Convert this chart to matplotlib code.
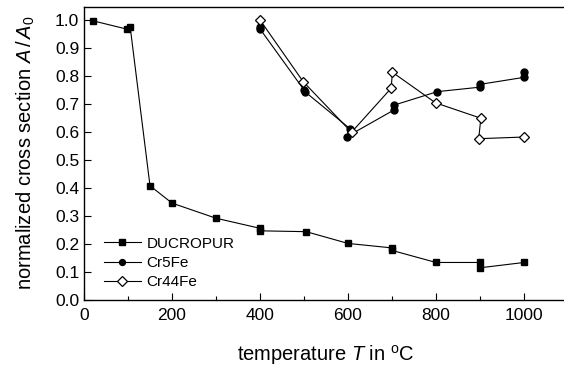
import matplotlib
matplotlib.use("Agg")
import matplotlib.pyplot as plt
from matplotlib.ticker import MultipleLocator

plt.rcParams['font.family'] = ['Liberation Sans', 'DejaVu Sans']
plt.rcParams['mathtext.fontset'] = 'custom'
plt.rcParams['mathtext.rm'] = 'Liberation Sans'
plt.rcParams['mathtext.it'] = 'Liberation Sans:italic'

# DUCROPUR (filled squares)
duc_T = [20, 98, 105, 150, 200, 300, 400, 400, 505, 600, 700, 700, 800, 900, 900, 1000]
duc_A = [0.997, 0.967, 0.974, 0.408, 0.346, 0.292, 0.256, 0.247, 0.244, 0.202, 0.186, 0.177, 0.134, 0.134, 0.115, 0.134]

# Cr5Fe (filled circles)
cr5_T = [400, 400, 500, 502, 605, 597, 705, 705, 803, 900, 900, 1000, 1000]
cr5_A = [0.976, 0.968, 0.75, 0.744, 0.611, 0.583, 0.679, 0.696, 0.744, 0.76, 0.770, 0.795, 0.815]

# Cr44Fe (open diamonds)
cr44_T = [400, 498, 608, 698, 701, 799, 902, 897, 1001]
cr44_A = [1.0, 0.780, 0.599, 0.756, 0.813, 0.704, 0.649, 0.576, 0.582]

fig = plt.figure(figsize=(5.64, 3.66), dpi=100)
ax = fig.add_axes([84 / 564, 66 / 366, 484 / 564, 293.5 / 366])

ax.plot(duc_T, duc_A, '-s', color='black', lw=0.8, ms=5, label='DUCROPUR')
ax.plot(cr5_T, cr5_A, '-o', color='black', lw=0.8, ms=5, label='Cr5Fe')
ax.plot(cr44_T, cr44_A, '-D', color='black', mfc='white', mew=0.9, lw=0.8, ms=5.5, label='Cr44Fe')

ax.set_xlim(0, 1100)
ax.set_ylim(0, 1.048)
ax.xaxis.set_major_locator(MultipleLocator(200))
ax.xaxis.set_minor_locator(MultipleLocator(100))
ax.yaxis.set_major_locator(MultipleLocator(0.1))
ax.yaxis.set_major_formatter(matplotlib.ticker.FormatStrFormatter('%.1f'))
ax.tick_params(axis='both', which='major', direction='in', length=5, width=0.8, labelsize=12.5)
ax.tick_params(axis='x', which='minor', direction='in', length=3, width=0.8)
ax.tick_params(axis='x', pad=6)
ax.spines['right'].set_visible(False)
for s in ['left', 'top', 'bottom']:
    ax.spines[s].set_linewidth(1.0)

ax.set_xlabel('temperature $\\mathit{T}$ in $^{\\rm o}$C', fontsize=14.5, labelpad=14)
ax.set_ylabel('normalized cross section $\\mathit{A}\\,/\\,\\mathit{A}_0$', fontsize=14.5, labelpad=13)

ax.legend(loc='lower left', bbox_to_anchor=(0.019, 0.0), frameon=False, fontsize=11,
          handlelength=2.4, handletextpad=0.4, labelspacing=0.35, borderaxespad=0.3,
          markerscale=0.85)

fig.savefig('out.png', dpi=100)
